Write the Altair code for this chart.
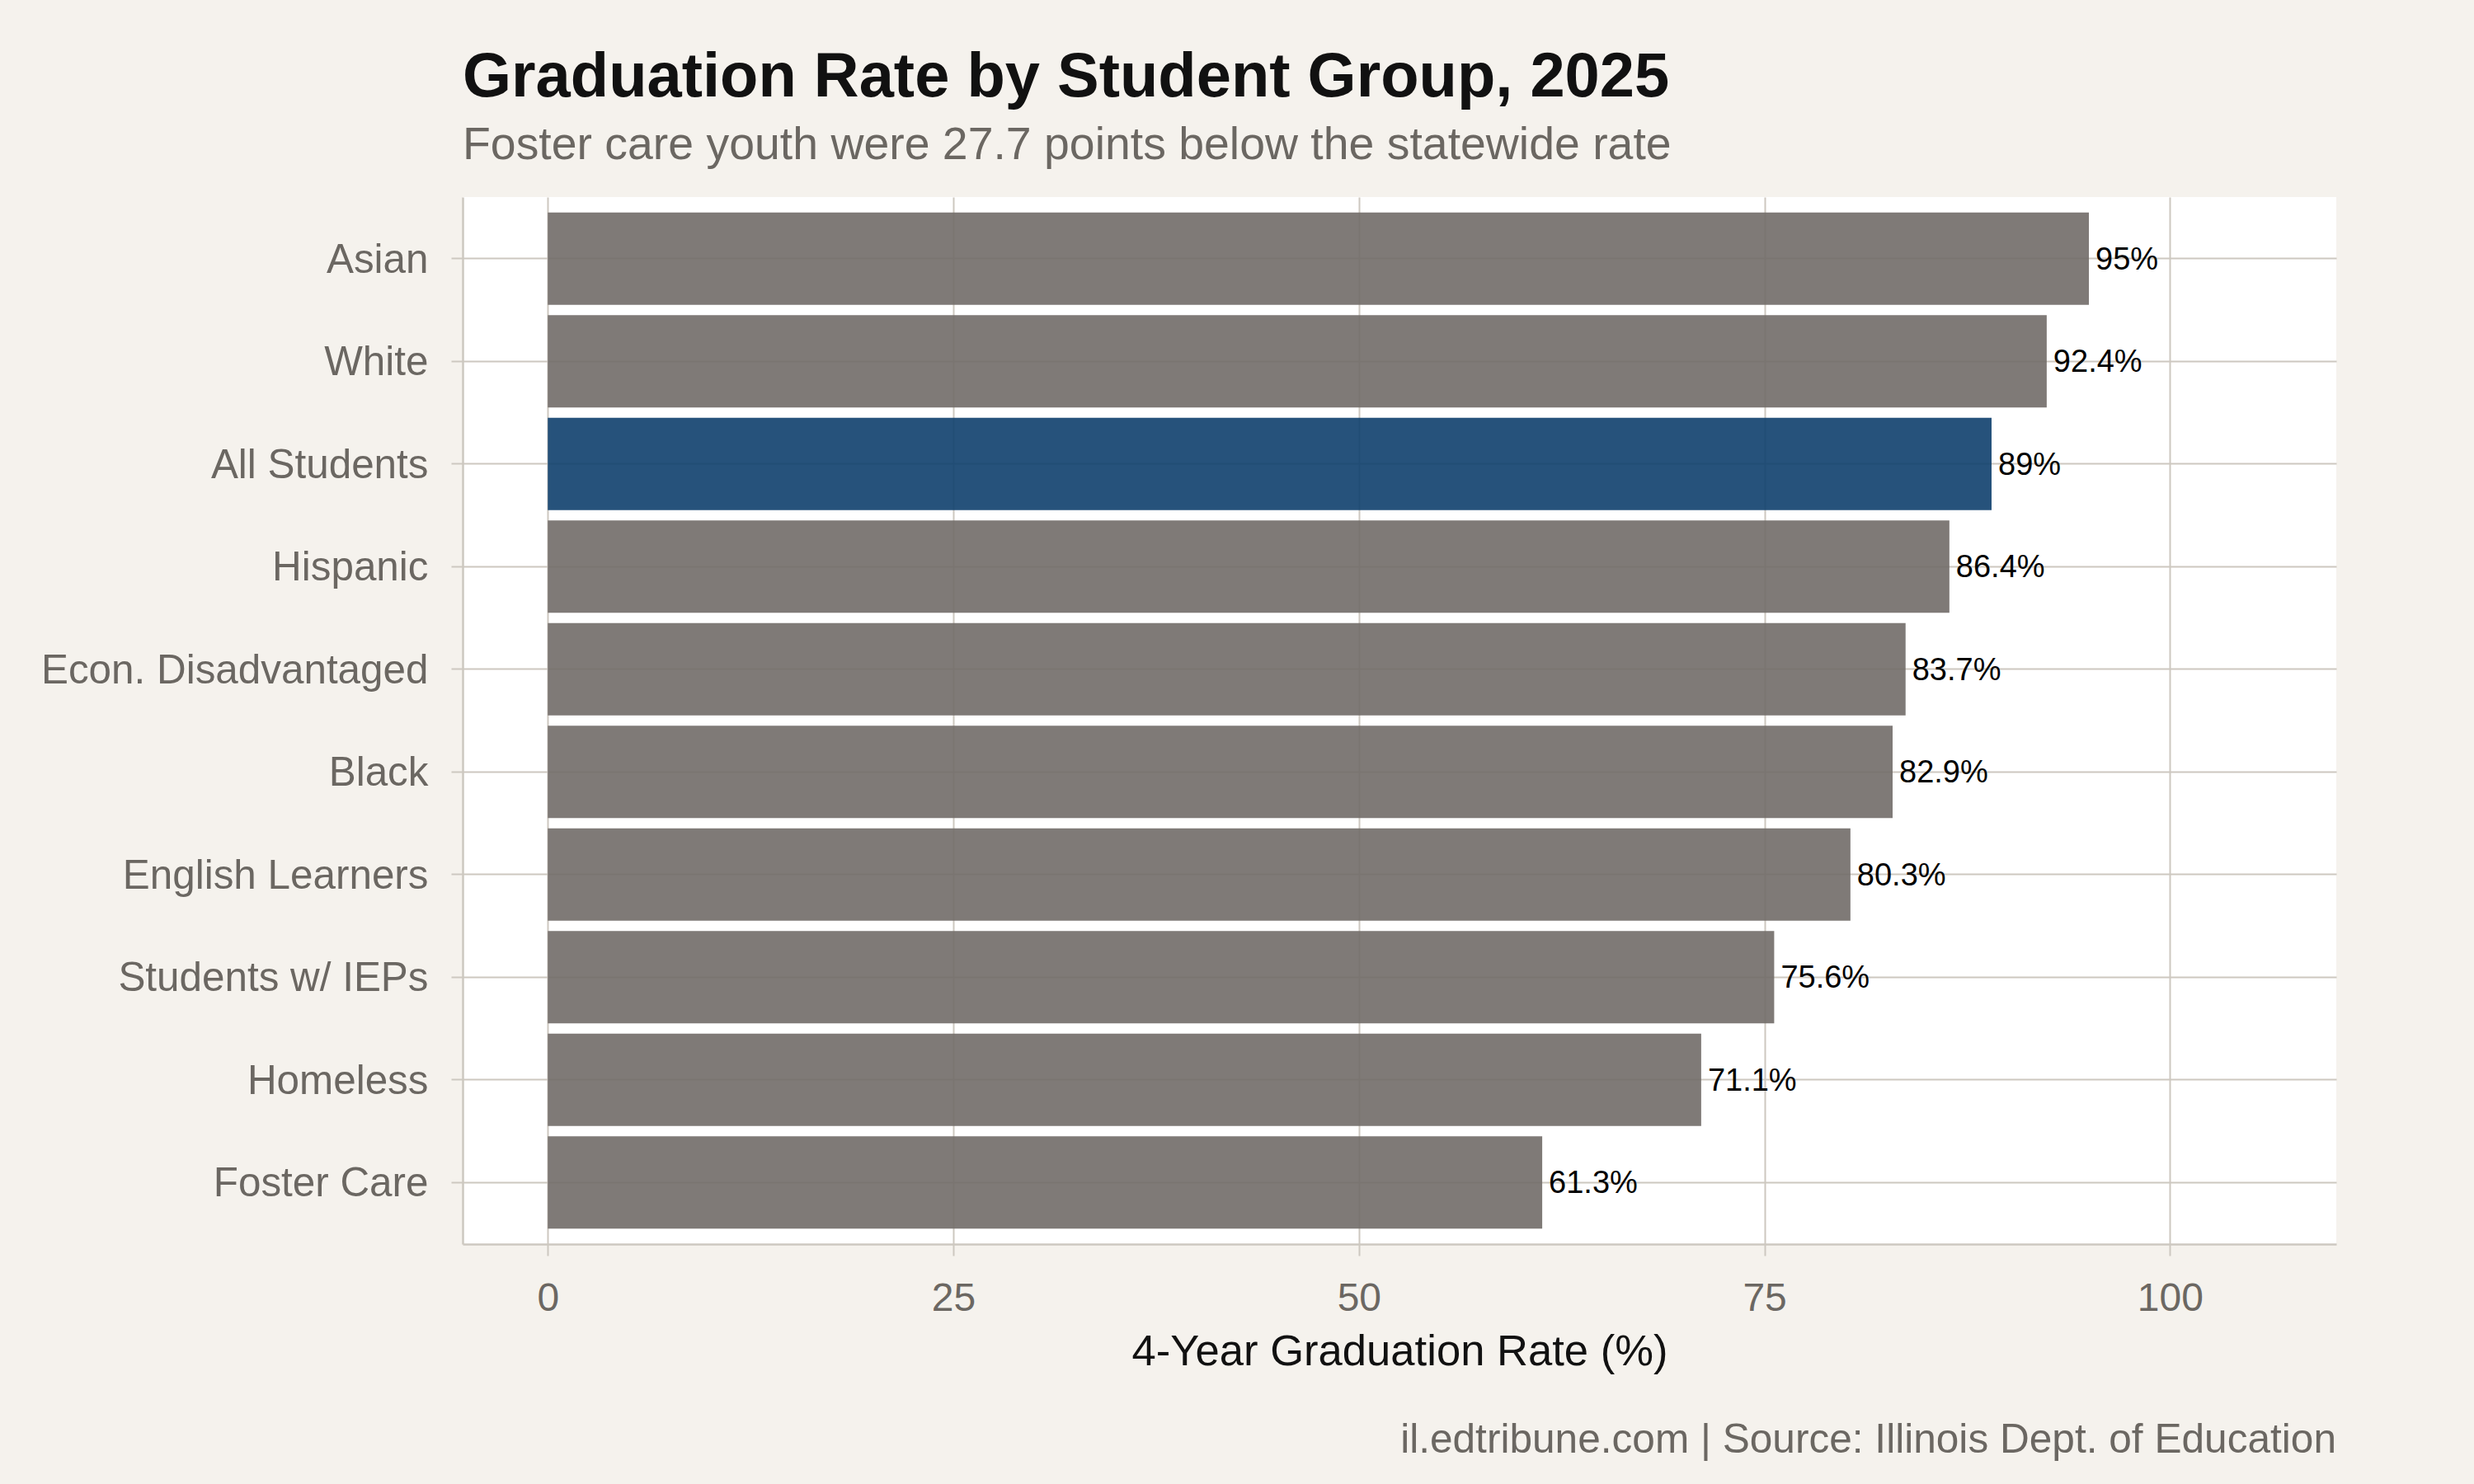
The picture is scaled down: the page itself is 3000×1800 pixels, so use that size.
import altair as alt
import pandas as pd

groups = ["Asian", "White", "All Students", "Hispanic", "Econ. Disadvantaged",
          "Black", "English Learners", "Students w/ IEPs", "Homeless", "Foster Care"]
rates = [95.0, 92.4, 89.0, 86.4, 83.7, 82.9, 80.3, 75.6, 71.1, 61.3]
highlight = ["All Students"]
x_ticks = [0, 25, 50, 75, 100]

title_text = "Graduation Rate by Student Group, 2025"
subtitle_text = "Foster care youth were 27.7 points below the statewide rate"
x_title = "4-Year Graduation Rate (%)"
caption_text = "il.edtribune.com | Source: Illinois Dept. of Education"

df = pd.DataFrame({
    "group": groups,
    "rate": rates,
    "label": [f"{v:g}%" for v in rates],
    "kind": ["highlight" if g in highlight else "other" for g in groups],
})

FONT = "Liberation Sans"
GRID = "#cdc8c0"
GRAYTXT = "#6b6762"
BG = "#f5f2ed"
W, H = 2272, 1270

xscale = alt.Scale(domain=[-5.25, 110.25], nice=False, zero=False)
yscale = alt.Scale(domain=groups, paddingInner=0.1, paddingOuter=0.15)

base = alt.Chart(df)

bars = base.mark_bar(opacity=0.9).encode(
    x=alt.X("rate:Q", scale=xscale,
            axis=alt.Axis(title=x_title, values=x_ticks, format="d",
                          titleFontSize=52.6, titleColor="#111111", titleFont=FONT,
                          titleFontWeight="normal", titlePadding=14,
                          labelFontSize=48, labelColor=GRAYTXT, labelFont=FONT,
                          labelPadding=28, tickSize=14)),
    y=alt.Y("group:N", scale=yscale, sort=groups,
            axis=alt.Axis(title=None, labelFontSize=49.4, labelColor=GRAYTXT,
                          labelFont=FONT, labelPadding=28, tickSize=14,
                          bandPosition=0.5, labelLimit=1000, labelOffset=2)),
    color=alt.Color("kind:N",
                    scale=alt.Scale(domain=["highlight", "other"],
                                    range=["#0e3f6d", "#716c68"]),
                    legend=None),
)

labels = base.mark_text(align="left", baseline="middle", dx=8, dy=2, fontSize=38,
                        font=FONT, color="#000000").encode(
    x=alt.X("rate:Q", scale=xscale),
    y=alt.Y("group:N", scale=yscale, sort=groups),
    text="label:N",
)

caption = alt.Chart(pd.DataFrame({"t": [caption_text]})).mark_text(
    align="right", baseline="alphabetic", fontSize=49.6, font=FONT, color=GRAYTXT
).encode(
    x=alt.value(W), y=alt.value(1523), text="t:N"
)

chart = alt.layer(bars, labels, caption).properties(
    width=W, height=H,
    background=BG,
    padding={"left": 561, "top": 239, "right": 167, "bottom": 291},
    autosize=alt.AutoSizeParams(type="none"),
    title=alt.TitleParams(
        text=title_text, subtitle=subtitle_text, anchor="start", frame="group",
        font=FONT, fontSize=75.9, fontWeight="bold", color="#111111",
        subtitleFont=FONT, subtitleFontSize=55.4, subtitleColor=GRAYTXT,
        offset=34, subtitlePadding=16,
    ),
).configure_view(
    fill="white", stroke=None
).configure_axis(
    domainColor=GRID, domainWidth=2.5, gridColor=GRID, gridWidth=2,
    tickColor=GRID, tickWidth=2, grid=True,
)

chart.save("out.html", embed_options={"renderer": "svg", "actions": False})
